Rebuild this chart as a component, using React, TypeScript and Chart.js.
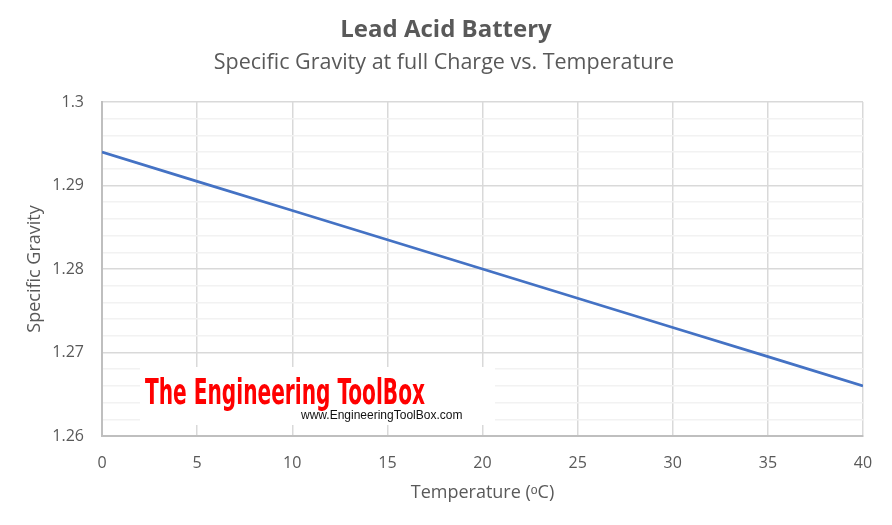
import React, { useEffect, useRef } from "react";
import { Chart, registerables } from "chart.js";

Chart.register(...registerables);

const temperatures = [0, 5, 10, 15, 20, 25, 30, 35, 40];
const specificGravity = [1.294, 1.2905, 1.287, 1.2835, 1.28, 1.2765, 1.273, 1.2695, 1.266];
const titleText = "Lead Acid Battery";
const subtitleText = "Specific Gravity at full Charge vs. Temperature";
const xTitle = "Temperature (ᵒC)";
const yTitle = "Specific Gravity";
const FONT = "'Open Sans', sans-serif";

const isMajor = (v: number) => Math.abs(v * 100 - Math.round(v * 100)) < 1e-6;

export default function App() {
  const ref = useRef<HTMLCanvasElement | null>(null);
  useEffect(() => {
    document.body.style.margin = "0";
    const ctx = ref.current!.getContext("2d")!;
    const deco = {
      id: "deco",
      afterDraw(chart: any) {
        const c = chart.ctx;
        const area = chart.chartArea;
        c.save();
        c.fillStyle = "#595959";
        c.textAlign = "center";
        c.textBaseline = "alphabetic";
        c.font = `bold 24px ${FONT}`;
        c.fillText(titleText, 446, 37);
        c.font = `21.5px ${FONT}`;
        c.fillText(subtitleText, 444, 69);
        c.font = `18px ${FONT}`;
        c.textBaseline = "middle";
        c.fillText(xTitle, (area.left + area.right) / 2, 493);
        c.translate(35, (area.top + area.bottom) / 2);
        c.rotate(-Math.PI / 2);
        c.fillText(yTitle, 0, 0);
        c.restore();
      },
      afterDatasetsDraw(chart: any) {
        const c = chart.ctx;
        c.save();
        c.fillStyle = "#ffffff";
        c.fillRect(140, 367, 355, 58);
        c.fillStyle = "#ff0000";
        c.textBaseline = "alphabetic";
        c.textAlign = "left";
        c.font = `bold 31px 'Liberation Sans Narrow', 'DejaVu Sans Condensed', sans-serif`;
        const t = "The Engineering ToolBox";
        const m = c.measureText(t).width;
        c.translate(145, 404);
        c.scale(280 / m, 1.12);
        c.fillText(t, 0, 0);
        c.restore();
        c.save();
        c.fillStyle = "#111111";
        c.font = `12px 'Liberation Sans', Arial, sans-serif`;
        c.textBaseline = "middle";
        c.textAlign = "left";
        c.fillText("www.EngineeringToolBox.com", 301, 416);
        c.restore();
      },
    };
    const chart = new Chart(ctx, {
      type: "line",
      data: {
        datasets: [
          {
            data: temperatures.map((x, i) => ({ x, y: specificGravity[i] })),
            borderColor: "#4472c4",
            borderWidth: 2.75,
            pointRadius: 0,
            tension: 0,
          },
        ],
      },
      options: {
        animation: false,
        responsive: false,
        layout: { padding: { top: 102, right: 29, left: 0, bottom: 0 } },
        plugins: { legend: { display: false }, tooltip: { enabled: false } },
        scales: {
          x: {
            type: "linear",
            min: 0,
            max: 40,
            afterFit: (s: any) => { s.height = 89; },
            ticks: { stepSize: 5, color: "#595959", font: { family: FONT, size: 16 }, padding: 18 },
            grid: { color: "#d9d9d9", lineWidth: 1.5, drawTicks: false },
            border: { color: "#bfbfbf", width: 2 },
          },
          y: {
            type: "linear",
            min: 1.26,
            max: 1.3,
            afterFit: (s: any) => { s.width = 102; },
            ticks: {
              stepSize: 0.002,
              autoSkip: false,
              color: "#595959",
              font: { family: FONT, size: 16 },
              padding: 18,
              callback: (v: any) => (isMajor(Number(v)) ? String(Number(Number(v).toFixed(2))) : ""),
            },
            grid: {
              drawTicks: false,
              color: (c: any) => (isMajor(c.tick.value) ? "#d9d9d9" : "#f2f2f2"),
              lineWidth: 1.5,
            },
            border: { color: "#bfbfbf", width: 2 },
          },
        },
      },
      plugins: [deco],
    } as any);
    return () => chart.destroy();
  }, []);
  return (
    <div style={{ width: 892, height: 525, background: "#fff" }}>
      <canvas ref={ref} width={892} height={525} style={{ width: 892, height: 525, display: "block" }} />
    </div>
  );
}
